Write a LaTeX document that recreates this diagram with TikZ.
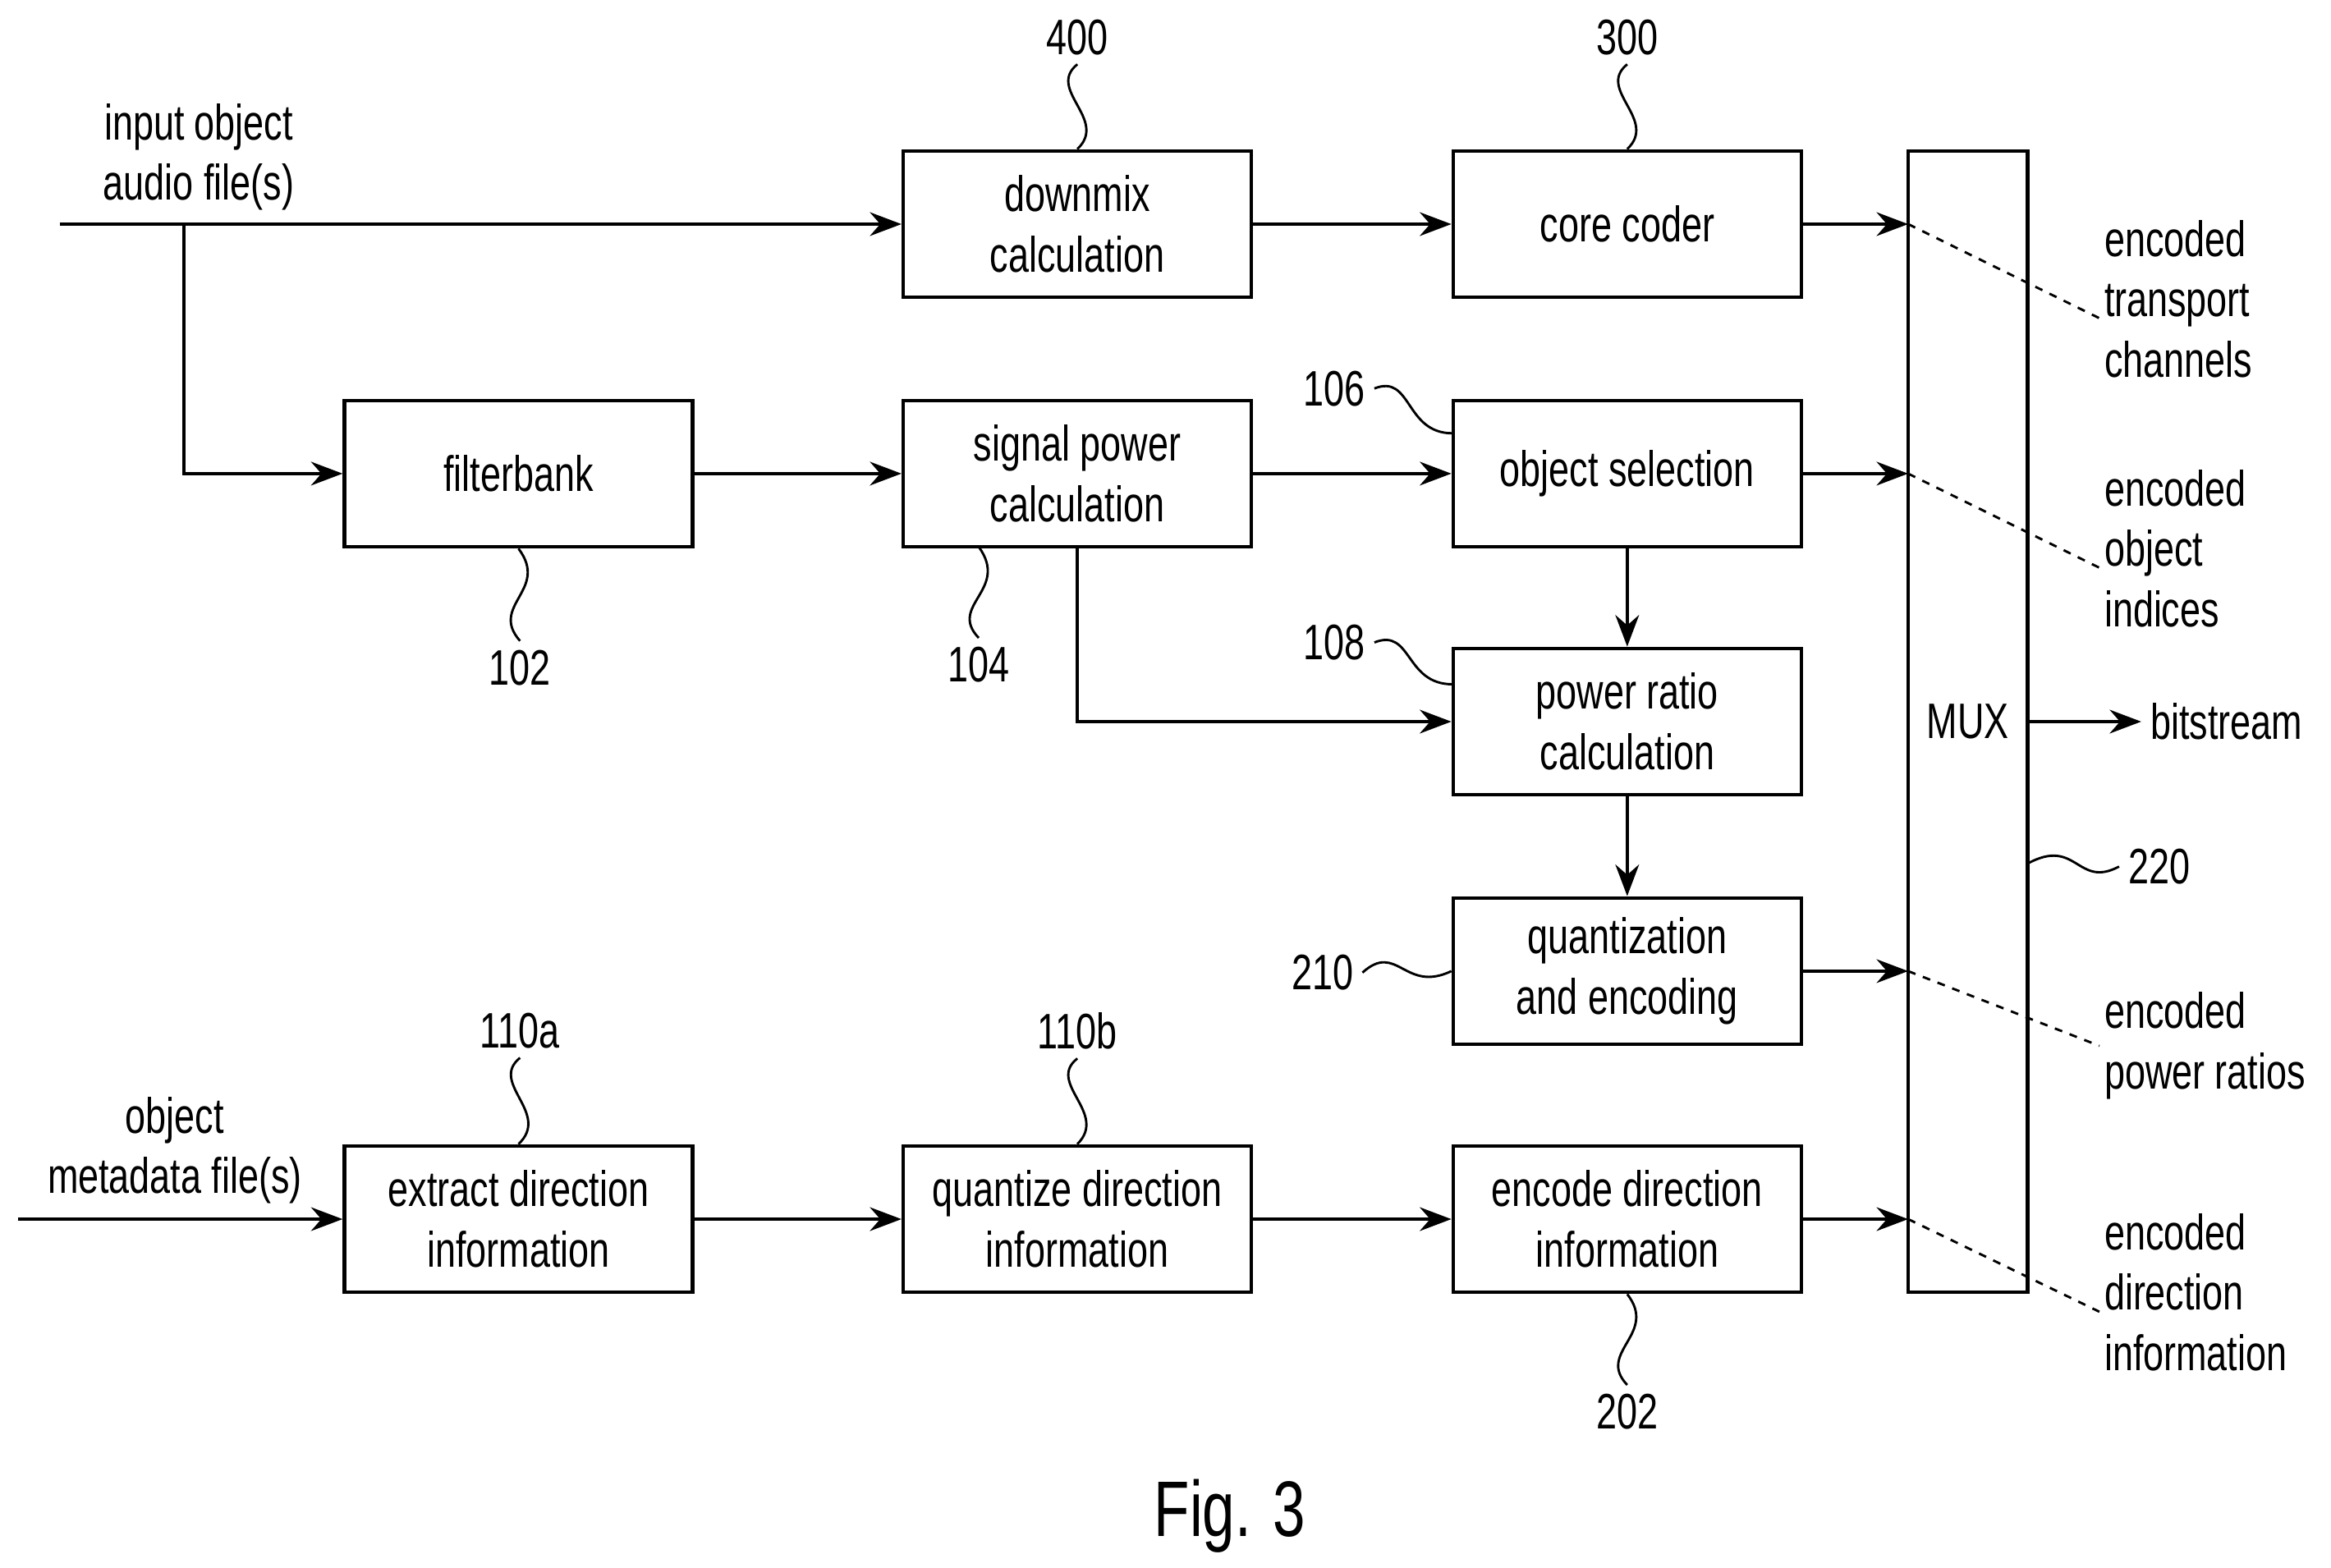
\documentclass[tikz,border=0pt]{standalone}
\usepackage{fontspec}
\setmainfont[FakeStretch=0.74]{Liberation Sans}
\usetikzlibrary{positioning,arrows.meta}
\begin{document}
\begin{tikzpicture}[x=0.02cm,y=-0.02cm]
        \tikzstyle{every node} = [font=\fontsize{19}{23}\selectfont]
        \tikzstyle{blk} = [draw,line width=1.4pt,minimum width=4.66cm,minimum height=1.96cm,align=center,inner sep=0pt]
        \tikzstyle{con} = [line width=1.4pt,-{Stealth[length=12pt,width=9pt]}]
        \tikzstyle{ref} = [line width=0.9pt]
        \tikzstyle{lbl} = [align=left,anchor=west,inner sep=0pt]
        \useasboundingbox (0,0) rectangle (1560,1049);
            % blocks
            \node[blk] (down) at (721,150) {downmix\\calculation};
            \node[blk] (core) at (1089,150) {core coder};
            \node[blk] (filt) at (347,317) {filterbank};
            \node[blk] (spow) at (721,317) {signal power\\calculation};
            \node[blk] (osel) at (1089,317) {object selection};
            \node[blk] (prat) at (1089,483) {power ratio\\calculation};
            \node[blk] (quan) at (1089,650) {quantization\\and encoding};
            \node[blk] (extr) at (347,816) {extract direction\\information};
            \node[blk] (qdir) at (721,816) {quantize direction\\information};
            \node[blk] (edir) at (1089,816) {encode direction\\information};
            \node[draw,line width=1.4pt,minimum width=1.6cm,minimum height=15.28cm,inner sep=0pt] (mux) at (1317,483) {MUX};
            % inputs
            \node[align=center] (inaud) at (133,105) {input object\\audio file(s)};
            \node[align=center] (inmeta) at (117,770) {object\\metadata file(s)};
            \coordinate (ina) at (40,150);
            \coordinate (inm) at (12,816);
            \coordinate (br) at (123,150);
            \draw[con] (ina) -- (down);
            \draw[con] (br) |- (filt);
            \draw[con] (inm) -- (extr);
            % connectors
            \draw[con] (down) -- (core);
            \draw[con] (filt) -- (spow);
            \draw[con] (spow) -- (osel);
            \draw[con] (spow.south) |- (prat.west);
            \draw[con] (osel) -- (prat);
            \draw[con] (prat) -- (quan);
            \draw[con] (extr) -- (qdir);
            \draw[con] (qdir) -- (edir);
            \foreach \b/\y in {core/150,osel/317,quan/650,edir/816}{
                \coordinate (m\b) at (1277,\y);
                \draw[con] (\b.east) -- (m\b);
            }
            % outputs
            \node (bits) at (1490,483) {bitstream};
            \draw[con] (mux.east) -- (bits.west);
            \node[lbl] (ot) at (1408,200) {encoded\\transport\\channels};
            \node[lbl] (oo) at (1408,367) {encoded\\object\\indices};
            \node[lbl] (op) at (1408,700) {encoded\\power ratios};
            \node[lbl] (od) at (1408,865) {encoded\\direction\\information};
            \draw[ref,dashed] (mcore) -- (1405,213);
            \draw[ref,dashed] (mosel) -- (1405,380);
            \draw[ref,dashed] (mquan) -- (1405,700);
            \draw[ref,dashed] (medir) -- (1405,878);
            % reference numbers
            \node (n400) at (721,25) {400};
            \node (n300) at (1089,25) {300};
            \node (n102) at (348,447) {102};
            \node (n104) at (655,445) {104};
            \node (n106) at (893,260) {106};
            \node (n108) at (893,430) {108};
            \node (n210) at (885,651) {210};
            \node (n220) at (1445,580) {220};
            \node (n110a) at (348,690) {110a};
            \node (n110b) at (721,690) {110b};
            \node (n202) at (1089,945) {202};
            \draw[ref] (n400.south) .. controls (700,60) and (742,80) .. (down.north);
            \draw[ref] (n300.south) .. controls (1068,60) and (1110,80) .. (core.north);
            \draw[ref] (filt.south) .. controls (368,395) and (327,405) .. (n102.north);
            \draw[ref] (655,366) .. controls (676,395) and (634,405) .. (n104.north);
            \draw[ref] (n106.east) .. controls (945,250) and (940,290) .. (972,290);
            \draw[ref] (n108.east) .. controls (945,420) and (940,458) .. (972,458);
            \draw[ref] (n210.east) .. controls (935,630) and (940,665) .. (quan.west);
            \draw[ref] (1357,578) .. controls (1390,560) and (1390,595) .. (n220.west);
            \draw[ref] (n110a.south) .. controls (327,725) and (369,745) .. (extr.north);
            \draw[ref] (n110b.south) .. controls (700,725) and (742,745) .. (qdir.north);
            \draw[ref] (edir.south) .. controls (1110,893) and (1068,905) .. (n202.north);
            \node[font=\fontsize{30}{36}\selectfont] (fig) at (823,1015) {Fig. 3};
\end{tikzpicture}
\end{document}
